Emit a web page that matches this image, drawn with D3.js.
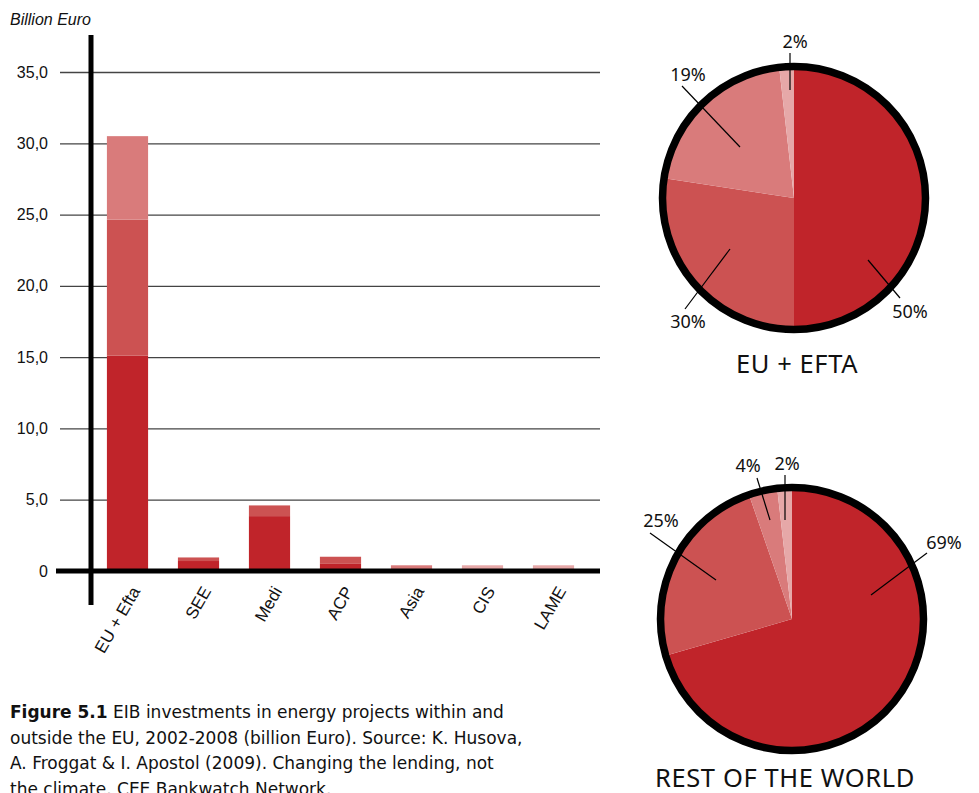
<!DOCTYPE html>
<html>
<head>
<meta charset="utf-8">
<script src="https://cdnjs.cloudflare.com/ajax/libs/d3/7.8.5/d3.min.js"></script>
<style>
  body { margin: 0; background: #fff; }
</style>
</head>
<body>
<svg id="chart"></svg>
<script>
// bar chart data (billion Euro), stacked bottom to top
var categories = ["EU + Efta", "SEE", "Medi", "ACP", "Asia", "CIS", "LAME"];
var segDark     = [15.1, 0.7, 3.85, 0.5, 0, 0, 0];
var segMid      = [9.55, 0.25, 0.75, 0.5, 0, 0, 0];
var segLight    = [5.85, 0, 0, 0, 0.4, 0, 0];
var segLightest = [0, 0, 0, 0, 0, 0.4, 0.4];
var yTicks = [0, 5, 10, 15, 20, 25, 30, 35];

// pies: slice shares as drawn, labels as printed
var euShares = [50, 27.4, 20.8, 1.8];
var euLabels = ["50%", "30%", "19%", "2%"];
var rowShares = [70.5, 24.2, 3.5, 1.8];
var rowLabels = ["69%", "25%", "4%", "2%"];

var colors = ["#c0242a", "#cc5252", "#d97b7b", "#e6a8a8"];

var svgWidth = 979, svgHeight = 793;
var svg = d3.select("#chart")
    .attr("width", svgWidth)
    .attr("height", svgHeight);

// ---- bar chart ----
var x = d3.scaleBand().domain(categories).range([92, 589])
    .paddingInner(0.42).paddingOuter(0.21);
var y = d3.scaleLinear().domain([0, 35]).range([571, 72]);

svg.append("text")
    .attr("x", 10).attr("y", 25)
    .attr("font-family", "Liberation Sans, Arial, sans-serif")
    .attr("font-style", "italic")
    .attr("font-size", 16)
    .attr("fill", "#111")
    .text("Billion Euro");

var gridG = svg.append("g")
    .attr("transform", "translate(60,0)")
    .call(d3.axisLeft(y)
        .tickValues(yTicks)
        .tickSize(-540)
        .tickPadding(12)
        .tickFormat(function(d) { return d === 0 ? "0" : d3.format(".1f")(d).replace(".", ","); }));
gridG.select(".domain").remove();
gridG.selectAll(".tick line")
    .attr("stroke", "#444")
    .attr("stroke-width", 1.3);
gridG.selectAll(".tick text")
    .attr("font-family", "Liberation Sans, Arial, sans-serif")
    .attr("font-size", 16)
    .attr("fill", "#111");

// stacked bars
var series = [segDark, segMid, segLight, segLightest];
var stackRows = categories.map(function(c, i) {
    var base = 0, parts = [];
    series.forEach(function(s, k) {
        parts.push({ cat: c, k: k, y0: base, y1: base + s[i] });
        base += s[i];
    });
    return parts;
});
svg.append("g").selectAll("g")
    .data(stackRows)
    .enter().append("g")
    .selectAll("rect")
    .data(function(d) { return d.filter(function(p) { return p.y1 > p.y0; }); })
    .enter().append("rect")
    .attr("x", function(d) { return x(d.cat); })
    .attr("width", x.bandwidth())
    .attr("y", function(d) { return y(d.y1); })
    .attr("height", function(d) { return y(d.y0) - y(d.y1); })
    .attr("fill", function(d) { return colors[d.k]; });

// axes lines
svg.append("line")
    .attr("x1", 56).attr("x2", 600)
    .attr("y1", y(0)).attr("y2", y(0))
    .attr("stroke", "#000").attr("stroke-width", 5);
svg.append("line")
    .attr("x1", 91).attr("x2", 91)
    .attr("y1", 35).attr("y2", 605)
    .attr("stroke", "#000").attr("stroke-width", 5);

// category labels
svg.append("g").selectAll("text")
    .data(categories)
    .enter().append("text")
    .attr("transform", function(d) {
        return "translate(" + (x(d) + x.bandwidth() / 2 + 8) + ",588) rotate(-60)";
    })
    .attr("text-anchor", "end")
    .attr("dy", "0.35em")
    .attr("font-family", "Liberation Sans, Arial, sans-serif")
    .attr("font-size", 17)
    .attr("fill", "#111")
    .text(function(d) { return d; });

// ---- pies ----
var pie = d3.pie().sort(null).value(function(d) { return d; });

function drawPie(cx, cy, shares, labels, leaders, title, titleX, titleY) {
    var r = 131;
    var arc = d3.arc().innerRadius(0).outerRadius(r);
    var g = svg.append("g").attr("transform", "translate(" + cx + "," + cy + ")");
    g.selectAll("path")
        .data(pie(shares))
        .enter().append("path")
        .attr("d", arc)
        .attr("fill", function(d, i) { return colors[i]; });
    g.append("circle")
        .attr("r", r + 0.5)
        .attr("fill", "none")
        .attr("stroke", "#000")
        .attr("stroke-width", 7.5);
    // leader lines and labels (offsets relative to centre)
    leaders.forEach(function(l, i) {
        g.append("line")
            .attr("x1", l[0]).attr("y1", l[1])
            .attr("x2", l[2]).attr("y2", l[3])
            .attr("stroke", "#000").attr("stroke-width", 1.2);
        g.append("text")
            .attr("x", l[4]).attr("y", l[5])
            .attr("text-anchor", "middle")
            .attr("dy", "0.35em")
            .attr("font-family", "Noto Sans, sans-serif")
            .attr("font-size", 18)
            .attr("fill", "#111")
            .text(labels[i]);
    });
    svg.append("text")
        .attr("x", titleX).attr("y", titleY)
        .attr("text-anchor", "middle")
        .attr("font-family", "Noto Sans, sans-serif")
        .attr("font-size", 25.5)
        .attr("letter-spacing", 0.6)
        .attr("fill", "#111")
        .text(title);
}

drawPie(794, 198, euShares, euLabels, [
    [74, 62, 106, 100, 116, 114],
    [-64, 51, -109, 111, -106, 124],
    [-54, -51, -112, -112, -106, -123],
    [-4, -108, -4, -145, 1, -156]
], "EU + EFTA", 797, 373);

drawPie(792, 619, rowShares, rowLabels, [
    [79, -24, 135, -66, 152, -76],
    [-76, -39, -142, -86, -131, -98],
    [-22, -99, -35, -141, -44, -153],
    [-7, -99, -7, -144, -5, -155]
], "REST OF THE WORLD", 785, 787);

// ---- caption ----
var captionLines = [
    ["Figure 5.1", " EIB investments in energy projects within and"],
    ["", "outside the EU, 2002-2008 (billion Euro). Source: K. Husova,"],
    ["", "A. Froggat & I. Apostol (2009). Changing the lending, not"],
    ["", "the climate. CEE Bankwatch Network."]
];
var cap = svg.append("g")
    .attr("font-family", "DejaVu Sans, sans-serif")
    .attr("font-size", 17)
    .attr("fill", "#111");
captionLines.forEach(function(line, i) {
    var t = cap.append("text").attr("x", 10).attr("y", 718 + i * 25.5);
    if (line[0]) t.append("tspan").attr("font-weight", "bold").text(line[0]);
    t.append("tspan").text(line[1]);
});
</script>
</body>
</html>
